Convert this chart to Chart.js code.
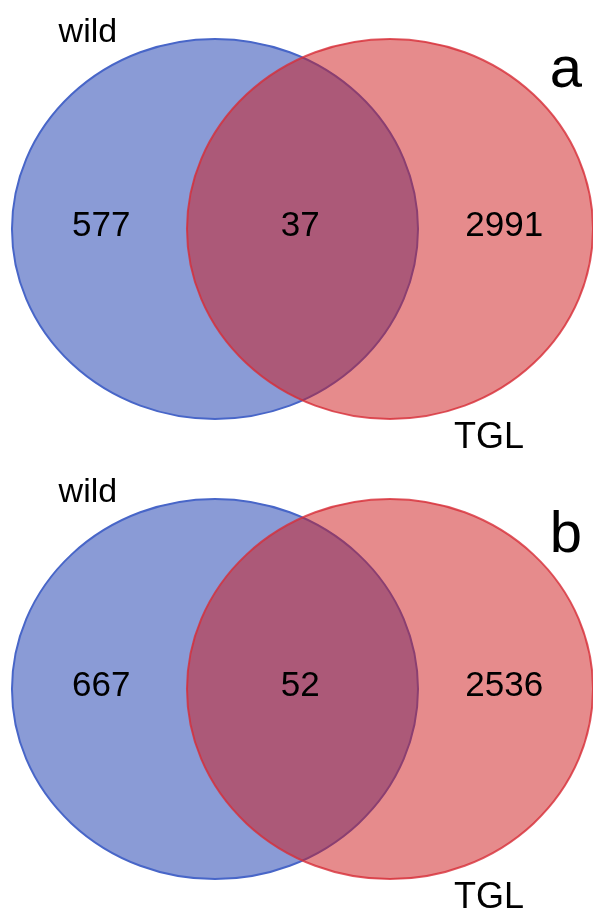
<!DOCTYPE html>
<html>
<head>
<meta charset="utf-8">
<script src="https://cdn.jsdelivr.net/npm/chart.js@4/dist/chart.umd.min.js"></script>
<style>
  html, body { margin: 0; padding: 0; background: #fff; }
  .panel { position: relative; width: 593px; }
  #panelA { height: 460px; }
  #panelB { height: 451px; }
</style>
</head>
<body>
<div class="panel" id="panelA"><canvas id="vennA"></canvas></div>
<div class="panel" id="panelB"><canvas id="vennB"></canvas></div>
<script>
// DATA
const setNames = ["wild", "TGL"];
const panelLabels = ["a", "b"];
// counts: wild only, wild & TGL, TGL only
const countsA = [577, 37, 2991];
const countsB = [667, 52, 2536];

// circle layout in axis units (radius 1)
const centersX = [0, 0.862];
const regionX = [-0.56, 0.42, 1.425];

const FONT = "'Liberation Sans', Arial, sans-serif";

// draws the two sets as ellipses through the chart's x/y scales
const vennPlugin = {
  id: "venn",
  afterDatasetsDraw(chart, args, opts) {
    const { ctx, scales: { x, y } } = chart;

    chart.data.datasets.forEach(ds => {
      const p = ds.data[0];
      const cx = x.getPixelForValue(p.x);
      const cy = y.getPixelForValue(p.y);
      const rx = x.getPixelForValue(p.x + p.r) - cx;
      const ry = cy - y.getPixelForValue(p.y + p.r);
      ctx.save();
      ctx.beginPath();
      ctx.ellipse(cx, cy, rx, ry, 0, 0, Math.PI * 2);
      ctx.fillStyle = ds.backgroundColor;
      ctx.fill();
      ctx.lineWidth = ds.borderWidth;
      ctx.strokeStyle = ds.borderColor;
      ctx.stroke();
      ctx.restore();
    });

    ctx.save();
    ctx.fillStyle = "#000";
    opts.texts.forEach(t => {
      ctx.font = t.size + "px " + FONT;
      ctx.textAlign = "center";
      ctx.textBaseline = t.baseline || "alphabetic";
      ctx.fillText(t.text, x.getPixelForValue(t.x), y.getPixelForValue(t.y));
    });
    ctx.restore();
  }
};

function drawVenn(id, counts, label, yMin) {
  const texts = [
    { text: setNames[0], x: -0.626, y: 0.984, size: 34 },
    { text: setNames[1], x: 1.35, y: -1.153, size: 36 },
    { text: label, x: 1.729, y: label === "a" ? 0.747 : 0.72, size: 58 }
  ];
  counts.forEach((c, i) => {
    texts.push({ text: String(c), x: regionX[i], y: 0.015, size: 35, baseline: "middle" });
  });

  return new Chart(document.getElementById(id), {
    type: "scatter",
    data: {
      datasets: [
        {
          label: setNames[0],
          data: [{ x: centersX[0], y: 0, r: 1 }],
          backgroundColor: "rgb(138, 155, 214)",
          borderColor: "rgb(72, 102, 200)",
          borderWidth: 2,
          pointRadius: 0
        },
        {
          label: setNames[1],
          data: [{ x: centersX[1], y: 0, r: 1 }],
          backgroundColor: "rgba(205, 23, 25, 0.5)",
          borderColor: "rgba(215, 45, 55, 0.8)",
          borderWidth: 2,
          pointRadius: 0
        }
      ]
    },
    options: {
      responsive: true,
      maintainAspectRatio: false,
      animation: false,
      layout: { padding: 0 },
      scales: {
        x: { type: "linear", min: -1.059, max: 1.862, display: false },
        y: { type: "linear", min: yMin, max: 1.205, display: false }
      },
      plugins: {
        legend: { display: false },
        tooltip: { enabled: false },
        venn: { texts }
      }
    },
    plugins: [vennPlugin]
  });
}

drawVenn("vennA", countsA, panelLabels[0], -1.216);
drawVenn("vennB", countsB, panelLabels[1], -1.168);
</script>
</body>
</html>
